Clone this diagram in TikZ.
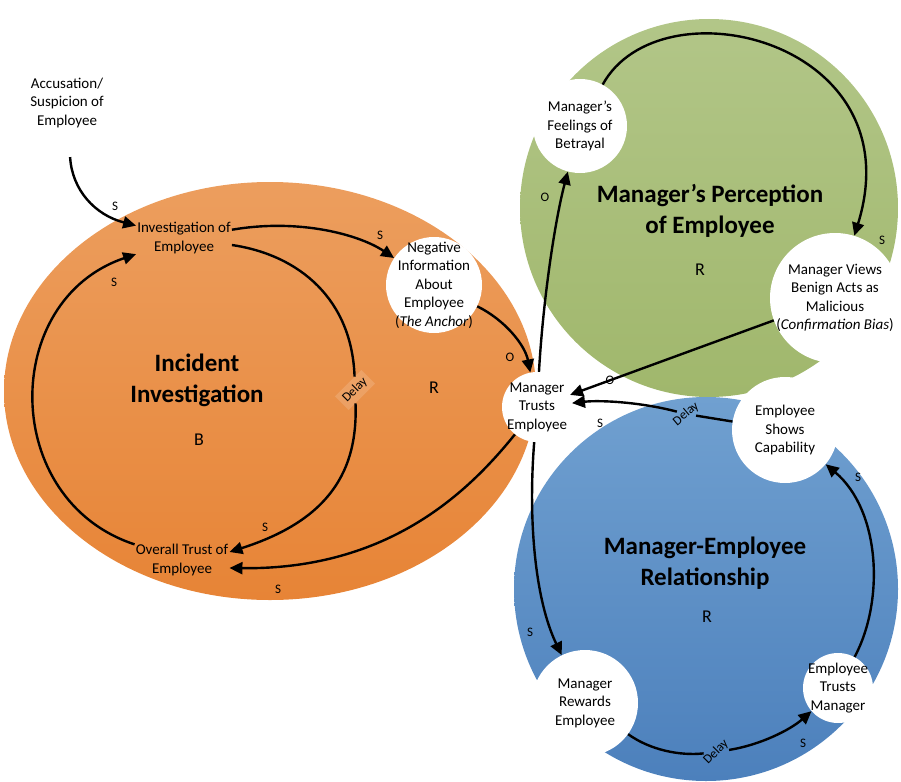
\documentclass[tikz,border=0pt]{standalone}
\usepackage{fontspec}
\setmainfont{Carlito}
\usetikzlibrary{arrows.meta}

\definecolor{orangetop}{RGB}{236,158,94}
\definecolor{orangebot}{RGB}{231,132,54}
\definecolor{greentop}{RGB}{178,198,136}
\definecolor{greenbot}{RGB}{160,183,108}
\definecolor{bluetop}{RGB}{112,160,208}
\definecolor{bluebot}{RGB}{76,128,188}

\tikzset{
  conn/.style={line width=2.4pt, -{Triangle[length=13pt,width=12pt]}},
  plainline/.style={line width=2.4pt},
  bubble/.style={circle, fill=white, inner sep=0pt},
  ntext/.style={font=\fontsize{15}{18.5}\selectfont, align=center, inner sep=1pt},
  looptitle/.style={font=\fontsize{25}{31}\selectfont\bfseries, align=center},
  loopmark/.style={font=\fontsize{18}{20}\selectfont},
  pol/.style={font=\fontsize{13}{15}\selectfont, inner sep=0pt},
  delaytag/.style={font=\fontsize{13}{15}\selectfont, inner sep=2pt},
}

\begin{document}
\begin{tikzpicture}[x=1pt, y=-1pt]
    \useasboundingbox (0,0) rectangle (901,781);

    % the three loops
    \shade[top color=orangetop, bottom color=orangebot] (270,391) ellipse [x radius=266, y radius=209];
    \shade[top color=greentop, bottom color=greenbot] (709,208) circle [radius=189];
    \shade[top color=bluetop, bottom color=bluebot] (706,589) circle [radius=192];

    \node[looptitle] (tinc) at (197,380) {Incident\\Investigation};
    \node[loopmark] (mb) at (199,440) {B};
    \node[loopmark] (mr1) at (434,388) {R};
    \node[looptitle] (tper) at (710,211) {Manager’s Perception\\of Employee};
    \node[loopmark] (mr2) at (700,270) {R};
    \node[looptitle] (trel) at (705,563) {Manager-Employee\\Relationship};
    \node[loopmark] (mr3) at (707,617) {R};

    % variables
    \node[ntext] (acc) at (67,103) {Accusation/\\Suspicion of\\Employee};
    \node[ntext] (inv) at (184,238) {Investigation of\\Employee};
    \node[ntext] (ovr) at (182,560) {Overall Trust of\\Employee};
    \node[bubble, minimum size=96pt, label={[ntext]center:Negative\\Information\\About\\Employee\\(\textit{The Anchor})}] (neg) at (434,285) {};
    \node[bubble, minimum size=70pt, label={[ntext]center:Manager\\Trusts\\Employee}] (trust) at (537,407) {};
    \node[bubble, minimum size=94pt, label={[ntext]center:Manager’s\\Feelings of\\Betrayal}] (betr) at (580,126) {};
    \node[bubble, minimum size=130pt, label={[ntext]center:Manager Views\\Benign Acts as\\Malicious\\(\textit{Confirmation Bias})}] (views) at (835,298) {};
    \node[bubble, minimum size=106pt, label={[ntext]center:Employee\\Shows\\Capability}] (shows) at (785,430) {};
    \node[bubble, minimum size=106pt, label={[ntext]center:Manager\\Rewards\\Employee}] (rewards) at (585,703) {};
    \node[bubble, minimum size=70pt, label={[ntext]center:Employee\\Trusts\\Manager}] (etrust) at (838,688) {};

    % delays
    \node[delaytag, inner sep=4pt, fill=white, fill opacity=0.15, text opacity=1, rotate=45] (d1) at (355,390) {Delay};
    \node[delaytag, rotate=40] (d2) at (686,414) {Delay};
    \node[delaytag, rotate=45] (d3) at (716,752) {Delay};

    % links
    \draw[conn, shorten <=28pt] (acc) .. controls (72,190) and (95,215) .. (inv);
    \draw[conn] (ovr) .. controls (0,500) and (0,300) .. (inv);
    \draw[plainline] (inv) .. controls (300,255) and (352,300) .. (d1);
    \draw[conn] (d1) .. controls (358,470) and (330,520) .. ([yshift=8pt]ovr.east);
    \draw[conn] (inv) .. controls (300,218) and (360,235) .. (neg);
    \draw[conn] (neg) .. controls (505,320) and (525,345) .. (trust);
    \draw[conn] (trust) .. controls (470,490) and (390,570) .. ([yshift=-8pt]ovr.east);
    \draw[conn] (trust) .. controls (543,300) and (555,220) .. (betr);
    \draw[conn] (betr) .. controls (660,-20) and (915,40) .. (views);
    \draw[conn] (views) -- (trust);
    \draw[plainline] (shows) -- (d2);
    \draw[conn] (d2) .. controls (640,402) and (600,400) .. (trust);
    \draw[conn] (trust) .. controls (528,520) and (535,600) .. (rewards);
    \draw[plainline] (rewards) .. controls (650,750) and (680,756) .. (d3);
    \draw[conn] (d3) .. controls (760,745) and (790,730) .. (etrust);
    \draw[conn] (etrust) .. controls (885,600) and (880,510) .. (shows);

    % polarities
    \node[pol] (p1) at (115,206) {S};
    \node[pol] (p2) at (114,282) {S};
    \node[pol] (p3) at (380,235) {S};
    \node[pol] (p4) at (510,357) {O};
    \node[pol] (p5) at (265,527) {S};
    \node[pol] (p6) at (278,589) {S};
    \node[pol] (p7) at (545,197) {O};
    \node[pol] (p8) at (882,240) {S};
    \node[pol] (p9) at (610,380) {O};
    \node[pol] (p10) at (600,423) {S};
    \node[pol] (p11) at (530,632) {S};
    \node[pol] (p12) at (803,743) {S};
    \node[pol] (p13) at (858,477) {S};
\end{tikzpicture}
\end{document}
